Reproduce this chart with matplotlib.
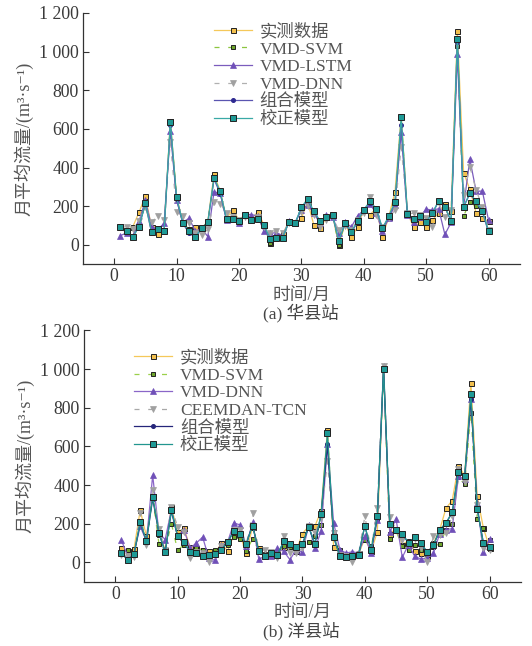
import matplotlib
matplotlib.use("Agg")
import matplotlib.pyplot as plt
import numpy as np

plt.rcParams['font.family'] = ['Liberation Serif', 'Noto Sans CJK SC', 'DejaVu Serif']

months = list(range(1, 61))

# ---------- (a) 华县站 ----------
a_obs = [100, 73, 95, 170, 252, 90, 54, 76, 640, 249, 116, 80, 92, 87, 121, 365, 277, 135, 183, 128,
         159, 133, 171, 104, 12, 47, 55, 121, 114, 137, 223, 102, 85, 142, 154, 0, 111, 40, 93, 180,
         157, 188, 41, 145, 273, 667, 163, 92, 116, 90, 128, 166, 213, 176, 1105, 373, 287, 166, 137, 121]
a_svm = [95, 72, 45, 100, 210, 70, 80, 75, 630, 245, 112, 68, 42, 88, 115, 350, 270, 135, 138, 122,
         155, 130, 135, 100, 10, 35, 40, 118, 115, 190, 235, 170, 125, 140, 150, 0, 112, 65, 120, 180,
         220, 185, 85, 148, 215, 655, 160, 132, 148, 118, 165, 225, 195, 125, 1027, 150, 221, 200, 175, 70]
a_lstm = [48, 62, 48, 123, 232, 93, 80, 111, 590, 232, 118, 137, 71, 85, 43, 275, 266, 128, 137, 114,
          156, 157, 149, 71, 59, 64, 48, 121, 114, 180, 207, 163, 111, 154, 145, 59, 118, 92, 150, 180,
          211, 163, 71, 137, 204, 586, 154, 118, 145, 185, 180, 187, 54, 116, 987, 197, 443, 278, 278, 128]
a_dnn = [93, 93, 80, 125, 197, 118, 149, 128, 534, 170, 149, 111, 59, 52, 80, 223, 214, 163, 145, 128,
         145, 128, 145, 93, 59, 73, 59, 111, 111, 170, 200, 154, 93, 128, 142, 76, 100, 76, 128, 163,
         249, 154, 93, 137, 180, 508, 163, 163, 154, 137, 93, 218, 145, 180, 1040, 258, 405, 284, 197, 76]
a_comb = [85, 65, 40, 98, 212, 62, 78, 70, 620, 235, 110, 62, 38, 85, 115, 340, 265, 130, 133, 118,
          152, 128, 130, 100, 25, 35, 38, 116, 112, 190, 230, 168, 122, 140, 150, 20, 110, 62, 120, 180,
          218, 185, 80, 145, 218, 620, 155, 130, 147, 117, 163, 225, 195, 122, 1050, 195, 265, 220, 172, 65]
a_corr = [90, 70, 43, 95, 215, 65, 83, 72, 638, 247, 115, 70, 40, 87, 118, 348, 277, 133, 135, 121,
          157, 130, 133, 104, 29, 38, 38, 118, 114, 194, 239, 173, 125, 142, 154, 22, 114, 69, 123, 183,
          225, 188, 86, 149, 221, 660, 159, 135, 150, 119, 166, 228, 197, 125, 1067, 197, 268, 225, 176, 71]

# ---------- (b) 洋县站 ----------
b_obs = [73, 60, 69, 270, 135, 342, 149, 66, 287, 156, 176, 80, 74, 66, 57, 48, 100, 59, 142, 142,
         48, 183, 74, 31, 45, 38, 80, 83, 59, 149, 187, 188, 268, 683, 81, 48, 31, 38, 48, 121,
         57, 157, 1008, 147, 175, 92, 112, 57, 48, 31, 100, 169, 280, 320, 501, 449, 930, 344, 178, 74]
b_svm = [48, 62, 40, 204, 109, 334, 97, 66, 200, 62, 92, 57, 73, 66, 40, 66, 80, 92, 131, 123,
         59, 121, 66, 45, 48, 52, 83, 80, 57, 100, 104, 135, 192, 662, 156, 62, 31, 40, 48, 118,
         83, 221, 1000, 119, 161, 86, 66, 92, 66, 40, 80, 97, 166, 199, 441, 403, 775, 226, 178, 118]
b_dnn = [114, 31, 48, 187, 109, 451, 152, 118, 273, 135, 169, 74, 100, 131, 22, 10, 92, 104, 204, 194,
         86, 207, 17, 31, 31, 74, 57, 14, 66, 52, 194, 74, 161, 610, 204, 66, 48, 55, 48, 135,
         48, 218, 1016, 156, 225, 26, 92, 31, 17, 22, 48, 149, 169, 175, 446, 429, 844, 308, 52, 121]
b_tcn = [40, 31, 26, 256, 92, 377, 175, 66, 285, 183, 157, 22, 54, 48, 3, 40, 83, 104, 169, 169,
         92, 256, 57, 66, 54, 22, 135, 48, 48, 73, 187, 152, 230, 524, 152, 40, 31, 3, 43, 239,
         62, 282, 1016, 235, 169, 118, 97, 121, 74, 3, 135, 140, 152, 239, 481, 415, 844, 299, 74, 62]
b_comb = [45, 15, 40, 205, 110, 330, 150, 55, 265, 132, 100, 55, 50, 33, 36, 45, 68, 100, 165, 145,
          95, 195, 57, 35, 45, 40, 105, 95, 78, 95, 182, 95, 250, 610, 130, 32, 26, 35, 40, 190,
          60, 235, 1003, 198, 165, 148, 100, 128, 100, 52, 88, 168, 202, 258, 470, 445, 845, 278, 100, 78]
b_corr = [48, 12, 43, 209, 112, 339, 154, 52, 271, 135, 105, 52, 50, 31, 36, 45, 66, 104, 162, 145,
          97, 190, 57, 35, 47, 40, 109, 97, 78, 97, 185, 97, 252, 671, 133, 31, 26, 35, 40, 190,
          62, 239, 1003, 200, 169, 149, 100, 130, 100, 52, 88, 169, 204, 259, 468, 449, 871, 278, 100, 78]

a_labels = ['实测数据', 'VMD-SVM', 'VMD-LSTM', 'VMD-DNN', '组合模型', '校正模型']
b_labels = ['实测数据', 'VMD-SVM', 'VMD-DNN', 'CEEMDAN-TCN', '组合模型', '校正模型']
yticks = [0, 200, 400, 600, 800, 1000, 1200]
ytick_labels = ['0', '200', '400', '600', '800', '1 000', '1 200']
xticks = [0, 10, 20, 30, 40, 50, 60]

TXT = '#3a3a3a'
EDGE = '#222222'

fig = plt.figure(figsize=(5.32, 6.46), dpi=100)
axA = fig.add_axes([0.156, 0.591, 0.821, 0.389])
axB = fig.add_axes([0.158, 0.0995, 0.821, 0.389])

def style(ax):
    ax.set_xlim(-5, 65)
    ax.set_ylim(-100, 1200)
    ax.set_yticks(yticks)
    ax.set_yticklabels(ytick_labels)
    ax.set_xticks(xticks)
    for s in ['top', 'right']:
        ax.spines[s].set_visible(False)
    for s in ['left', 'bottom']:
        ax.spines[s].set_color('#333333')
        ax.spines[s].set_linewidth(0.9)
    ax.tick_params(direction='in', length=4, width=0.8, colors='#333333',
                   labelsize=12.8, labelcolor=TXT, pad=3)
    ax.set_xlabel('时间/月', fontsize=12.8, color='#555555', labelpad=1)
    ax.set_ylabel('月平均流量/(m³·s⁻¹)', fontsize=13, color='#555555', labelpad=4)

# (a)
axA.plot(months, a_obs, color='#f5c85a', lw=0.9, marker='s', ms=3.6, mfc='#f2c04e', mec=EDGE, mew=0.7, label=a_labels[0], zorder=3)
axA.plot(months, a_svm, color='#8cc63f', lw=0.9, ls=(0, (4, 7)), marker='s', ms=3.4, mfc='#6ea52c', mec=EDGE, mew=0.7, label=a_labels[1], zorder=3)
axA.plot(months, a_lstm, color='#7b5cbd', lw=0.9, marker='^', ms=4.2, mfc='#7050b8', mec='#7050b8', mew=0.5, label=a_labels[2], zorder=3)
axA.plot(months, a_dnn, color='#b0b0b0', lw=0.9, ls=(0, (4, 7)), marker='v', ms=4.2, mfc='#a0a0a0', mec='#a0a0a0', mew=0.5, label=a_labels[3], zorder=3)
axA.plot(months, a_comb, color='#5a55b0', lw=0.9, marker='o', ms=2.6, mfc='#2e2a90', mec='#2e2a90', label=a_labels[4], zorder=4)
axA.plot(months, a_corr, color='#3aa9a6', lw=0.9, marker='s', ms=3.8, mfc='#1e9a96', mec=EDGE, mew=0.7, label=a_labels[5], zorder=5)
style(axA)
legA = axA.legend(loc='upper left', bbox_to_anchor=(0.275, 1.0), frameon=False, fontsize=12.5,
                  handlelength=2.2, handletextpad=0.45, labelspacing=0.08, borderaxespad=0.2)
for t in legA.get_texts():
    t.set_color('#555555')
fig.text(0.566, 0.515, '(a) 华县站', ha='center', va='center', fontsize=12.5, color='#444444')

# (b)
axB.plot(months, b_obs, color='#f5c85a', lw=0.9, marker='s', ms=3.6, mfc='#f2c04e', mec=EDGE, mew=0.7, label=b_labels[0], zorder=3)
axB.plot(months, b_svm, color='#9bd04a', lw=0.9, ls=(0, (4, 7)), marker='s', ms=3.4, mfc='#6ea52c', mec=EDGE, mew=0.7, label=b_labels[1], zorder=3)
axB.plot(months, b_dnn, color='#8a66c8', lw=0.9, marker='^', ms=4.2, mfc='#7050b8', mec='#7050b8', mew=0.5, label=b_labels[2], zorder=3)
axB.plot(months, b_tcn, color='#a8a8a8', lw=0.9, ls=(0, (4, 7)), marker='v', ms=4.2, mfc='#a0a0a0', mec='#a0a0a0', mew=0.5, label=b_labels[3], zorder=3)
axB.plot(months, b_comb, color='#25257a', lw=0.9, marker='o', ms=2.6, mfc='#25257a', mec='#25257a', label=b_labels[4], zorder=4)
axB.plot(months, b_corr, color='#22968f', lw=0.9, marker='s', ms=3.8, mfc='#1e9a96', mec=EDGE, mew=0.7, label=b_labels[5], zorder=5)
style(axB)
legB = axB.legend(loc='upper left', bbox_to_anchor=(0.09, 0.965), frameon=False, fontsize=12.5,
                  handlelength=2.2, handletextpad=0.45, labelspacing=0.08, borderaxespad=0.2)
for t in legB.get_texts():
    t.set_color('#555555')
fig.text(0.566, 0.023, '(b) 洋县站', ha='center', va='center', fontsize=12.5, color='#444444')

fig.savefig('out.png', dpi=100)
